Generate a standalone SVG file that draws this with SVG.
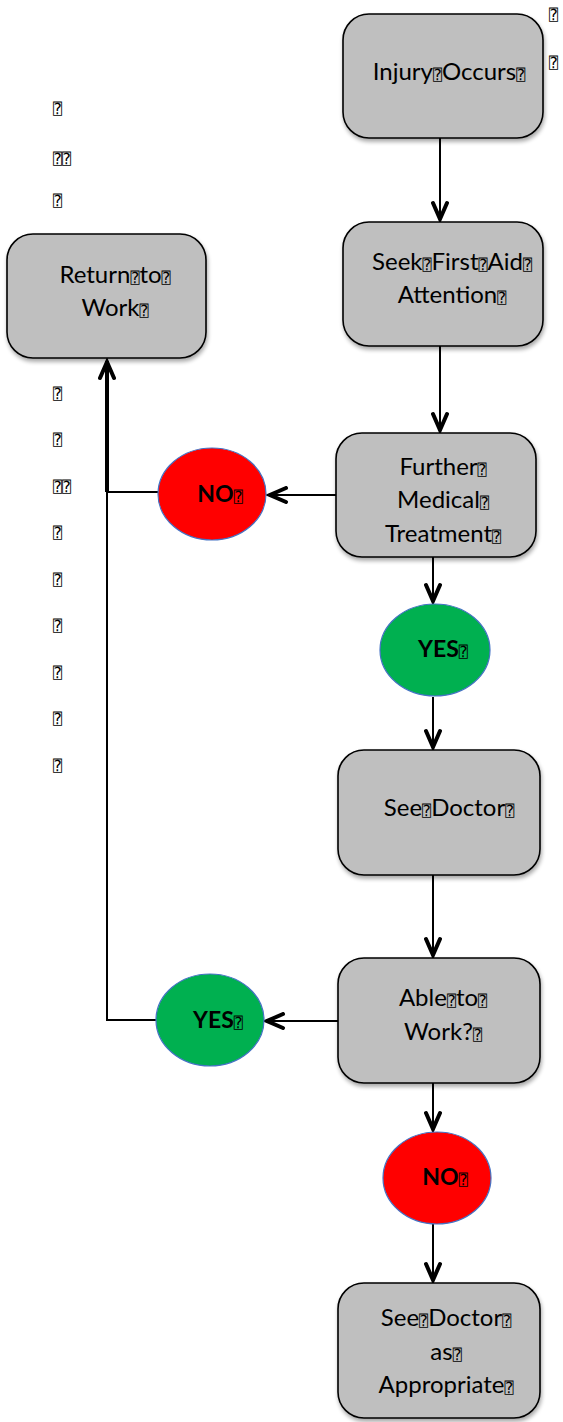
<svg xmlns="http://www.w3.org/2000/svg" width="563" height="1422" viewBox="0 0 563 1422">
<style>
.box{fill:#bfbfbf;stroke:#000;stroke-width:1.6}
.t{font-family:Lato,"DejaVu Sans",sans-serif;font-size:24px;fill:#000;text-anchor:middle}
.b{font-family:Lato,"DejaVu Sans",sans-serif;font-size:23px;font-weight:bold;fill:#000;text-anchor:middle}
.q{font-family:"DejaVu Sans Mono","DejaVu Sans",monospace;font-size:15px;font-weight:normal}
.qs{font-family:"DejaVu Sans Mono","DejaVu Sans",monospace;font-size:15px;fill:#000}
.red{fill:#ff0000;stroke:#4472c4;stroke-width:1.2}
.green{fill:#00b050;stroke:#4472c4;stroke-width:1.2}
.ln{stroke:#000;stroke-width:2;fill:none}
</style>
<defs>
<filter id="sh" x="-10%" y="-10%" width="130%" height="130%">
<feGaussianBlur in="SourceAlpha" stdDeviation="2"/>
<feOffset dx="1" dy="3" result="o"/>
<feComponentTransfer><feFuncA type="linear" slope="0.35"/></feComponentTransfer>
<feMerge><feMergeNode/><feMergeNode in="SourceGraphic"/></feMerge>
</filter>
<marker id="ah" viewBox="0 0 24 18" refX="21" refY="9" markerWidth="24" markerHeight="18" markerUnits="userSpaceOnUse" orient="auto">
<path d="M4,2 L20,9 L4,16" fill="none" stroke="#000" stroke-width="4" stroke-linecap="round" stroke-linejoin="miter"/>
</marker>
</defs>

<g id="connectors">
<line class="ln" x1="440" y1="138" x2="440" y2="220" marker-end="url(#ah)"/>
<line class="ln" x1="440" y1="346" x2="440" y2="431" marker-end="url(#ah)"/>
<line class="ln" x1="336" y1="495" x2="269" y2="495" marker-end="url(#ah)"/>
<line class="ln" x1="158" y1="492" x2="107" y2="492"/>
<line x1="107" y1="492" x2="107" y2="361" stroke="#000" stroke-width="4" marker-end="url(#ah)"/>
<line class="ln" x1="107" y1="1020" x2="107" y2="491"/>
<line class="ln" x1="433" y1="557" x2="433" y2="602" marker-end="url(#ah)"/>
<line class="ln" x1="433" y1="697" x2="433" y2="748" marker-end="url(#ah)"/>
<line class="ln" x1="433" y1="875" x2="433" y2="956" marker-end="url(#ah)"/>
<line class="ln" x1="338" y1="1021" x2="266" y2="1021" marker-end="url(#ah)"/>
<line class="ln" x1="156" y1="1020" x2="106" y2="1020"/>
<line class="ln" x1="433" y1="1083" x2="433" y2="1130" marker-end="url(#ah)"/>
<line class="ln" x1="433" y1="1224" x2="433" y2="1281" marker-end="url(#ah)"/>
</g>

<g id="stray">
<text class="qs" x="549" y="20">⍰</text>
<text class="qs" x="549" y="68">⍰</text>
<text class="qs" x="53" y="114">⍰</text>
<text class="qs" x="53" y="164">⍰⍰</text>
<text class="qs" x="53" y="206">⍰</text>
<text class="qs" x="53" y="399">⍰</text>
<text class="qs" x="53" y="445">⍰</text>
<text class="qs" x="53" y="492">⍰⍰</text>
<text class="qs" x="53" y="538">⍰</text>
<text class="qs" x="53" y="585">⍰</text>
<text class="qs" x="53" y="631">⍰</text>
<text class="qs" x="53" y="678">⍰</text>
<text class="qs" x="53" y="724">⍰</text>
<text class="qs" x="53" y="771">⍰</text>
</g>

<g id="n-injury">
<rect class="box" x="343" y="14" width="200" height="124" rx="26" filter="url(#sh)"/>
<text class="t" x="449" y="80">Injury<tspan class="q">⍰</tspan>Occurs<tspan class="q">⍰</tspan></text>
</g>

<g id="n-return">
<rect class="box" x="7" y="234" width="199" height="124" rx="26" filter="url(#sh)"/>
<text class="t" x="115" y="283">Return<tspan class="q">⍰</tspan>to<tspan class="q">⍰</tspan></text>
<text class="t" x="115" y="316">Work<tspan class="q">⍰</tspan></text>
</g>

<g id="n-seek">
<rect class="box" x="343" y="222" width="200" height="124" rx="26" filter="url(#sh)"/>
<text class="t" x="452" y="270">Seek<tspan class="q">⍰</tspan>First<tspan class="q">⍰</tspan>Aid<tspan class="q">⍰</tspan></text>
<text class="t" x="452" y="303">Attention<tspan class="q">⍰</tspan></text>
</g>

<g id="n-further">
<rect class="box" x="336" y="433" width="200" height="124" rx="26" filter="url(#sh)"/>
<text class="t" x="443" y="475">Further<tspan class="q">⍰</tspan></text>
<text class="t" x="443" y="508">Medical<tspan class="q">⍰</tspan></text>
<text class="t" x="443" y="542">Treatment<tspan class="q">⍰</tspan></text>
</g>

<g id="c-no1">
<ellipse class="red" cx="212" cy="494" rx="54" ry="46"/>
<text class="b" x="220" y="502">NO<tspan class="q">⍰</tspan></text>
</g>

<g id="c-yes1">
<ellipse class="green" cx="435" cy="650" rx="55" ry="46"/>
<text class="b" x="443" y="657">YES<tspan class="q">⍰</tspan></text>
</g>

<g id="n-doctor">
<rect class="box" x="338" y="750" width="202" height="125" rx="26" filter="url(#sh)"/>
<text class="t" x="449" y="816">See<tspan class="q">⍰</tspan>Doctor<tspan class="q">⍰</tspan></text>
</g>

<g id="n-able">
<rect class="box" x="338" y="958" width="202" height="125" rx="26" filter="url(#sh)"/>
<text class="t" x="443" y="1006">Able<tspan class="q">⍰</tspan>to<tspan class="q">⍰</tspan></text>
<text class="t" x="443" y="1040">Work?<tspan class="q">⍰</tspan></text>
</g>

<g id="c-yes2">
<ellipse class="green" cx="210" cy="1020" rx="54" ry="46"/>
<text class="b" x="218" y="1028">YES<tspan class="q">⍰</tspan></text>
</g>

<g id="c-no2">
<ellipse class="red" cx="437" cy="1178" rx="54" ry="46"/>
<text class="b" x="445" y="1185">NO<tspan class="q">⍰</tspan></text>
</g>

<g id="n-appropriate">
<rect class="box" x="338" y="1283" width="202" height="135" rx="26" filter="url(#sh)"/>
<text class="t" x="446" y="1326">See<tspan class="q">⍰</tspan>Doctor<tspan class="q">⍰</tspan></text>
<text class="t" x="446" y="1360">as<tspan class="q">⍰</tspan></text>
<text class="t" x="446" y="1393">Appropriate<tspan class="q">⍰</tspan></text>
</g>
</svg>
